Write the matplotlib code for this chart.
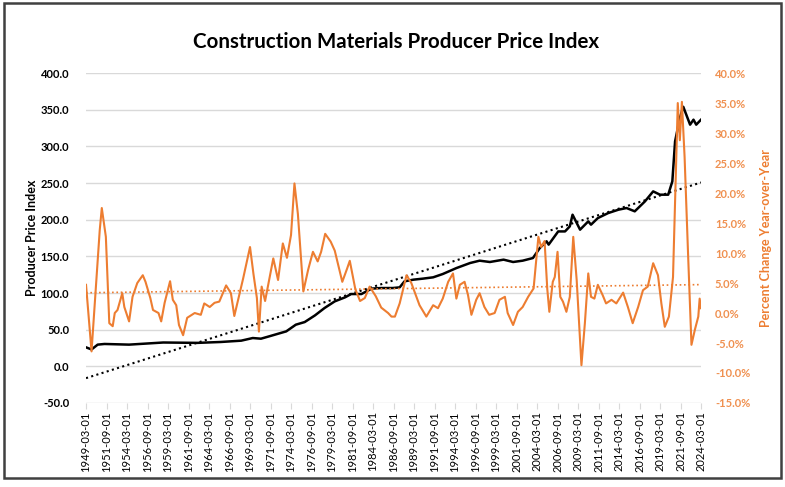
import numpy as np
import pandas as pd
import matplotlib
matplotlib.use("Agg")
import matplotlib.pyplot as plt
import matplotlib.dates as mdates
from matplotlib.patches import Rectangle

plt.rcParams['font.family'] = ['Lato', 'DejaVu Sans']

# Producer price index (left axis)
ppi_dates = [
    "1949-03", "1949-11", "1950-08", "1951-06", "1954-06", "1958-08", "1962-10",
    "1965-08", "1968-02", "1969-07", "1970-07", "1971-07", "1973-08", "1974-10",
    "1975-11", "1977-02", "1978-04", "1979-07", "1980-10", "1981-07", "1982-10",
    "1984-01", "1985-03", "1986-08", "1987-06", "1988-01", "1989-02", "1990-04",
    "1991-07", "1992-09", "1994-05", "1996-01", "1997-03", "1998-06", "2000-02",
    "2001-04", "2002-06", "2003-09", "2004-07", "2005-05", "2005-08", "2006-10",
    "2007-08", "2008-03", "2008-07", "2009-06", "2010-06", "2010-10", "2011-08",
    "2012-11", "2014-02", "2015-02", "2016-02", "2017-05", "2018-05", "2019-03",
    "2020-03", "2020-09", "2021-01", "2021-08", "2022-01", "2022-11", "2023-04",
    "2023-08", "2024-03",
]
ppi_values = [
    25.9, 23.0, 29.6, 30.5, 29.6, 32.5, 32.0,
    33.2, 35.0, 38.6, 37.7, 40.9, 47.7, 56.8,
    60.4, 69.5, 79.5, 88.6, 94.1, 98.6, 98.6,
    106.0, 106.8, 106.8, 107.7, 115.9, 118.2, 119.6,
    121.4, 125.9, 134.0, 140.9, 144.1, 142.3, 145.5,
    142.3, 144.1, 147.7, 161.3, 170.5, 166.0, 184.0,
    184.0, 190.9, 206.8, 186.4, 197.7, 193.2, 202.2,
    209.0, 213.6, 215.9, 211.4, 225.0, 238.6, 234.1,
    234.1, 252.3, 306.8, 338.6, 354.0, 329.6, 336.4,
    329.6, 336.4,
]

# Percent change year-over-year (right axis)
yoy_dates = [
    "1949-03", "1949-11", "1950-11", "1951-02", "1951-08", "1952-01", "1952-06",
    "1952-09", "1953-01", "1953-08", "1953-11", "1954-06", "1954-11", "1955-06",
    "1956-02", "1956-06", "1957-01", "1957-05", "1958-01", "1958-05", "1958-10",
    "1959-06", "1959-10", "1960-03", "1960-07", "1961-01", "1961-07", "1962-06",
    "1963-03", "1963-08", "1964-04", "1964-11", "1965-06", "1966-04", "1966-11",
    "1967-04", "1968-05", "1969-03", "1969-08", "1970-01", "1970-04", "1970-08",
    "1971-01", "1971-07", "1972-01", "1972-08", "1973-03", "1973-09", "1974-03",
    "1974-08", "1975-01", "1975-09", "1976-04", "1976-11", "1977-06", "1977-11",
    "1978-05", "1979-01", "1979-07", "1980-06", "1981-01", "1981-05", "1982-01",
    "1982-08", "1983-03", "1983-10", "1984-07", "1985-03", "1986-01", "1986-06",
    "1986-11", "1987-06", "1988-04", "1988-11", "1989-11", "1990-09", "1991-07",
    "1992-02", "1992-09", "1993-05", "1993-12", "1994-05", "1994-10", "1995-05",
    "1995-10", "1996-03", "1996-10", "1997-03", "1997-10", "1998-05", "1999-01",
    "1999-08", "2000-04", "2000-08", "2001-04", "2001-11", "2002-06", "2003-02",
    "2003-10", "2004-05", "2004-09", "2005-02", "2005-06", "2005-09", "2006-02",
    "2006-05", "2006-09", "2007-01", "2007-05", "2007-10", "2008-03", "2008-08",
    "2009-01", "2009-08", "2010-01", "2010-06", "2010-10", "2011-03", "2011-08",
    "2012-03", "2012-08", "2013-04", "2013-11", "2014-09", "2015-04", "2015-11",
    "2016-07", "2017-02", "2017-09", "2018-05", "2018-12", "2019-05", "2019-10",
    "2020-04", "2020-10", "2021-05", "2021-08", "2021-11", "2022-03", "2022-08",
    "2023-01", "2023-06", "2023-11", "2024-01", "2024-03",
]
yoy_values = [
    4.7, -6.4, 13.8, 17.5, 12.7, -1.7, -2.2,
    0.0, 0.5, 3.3, 1.0, -1.4, 2.7, 5.0,
    6.3, 5.2, 2.5, 0.5, 0.0, -1.4, 1.7,
    5.3, 2.2, 1.3, -2.0, -3.7, -0.8, 0.0,
    -0.3, 1.6, 1.0, 1.7, 1.9, 4.6, 3.3,
    -0.5, 5.8, 11.0, 6.5, 2.5, -3.1, 4.4,
    2.0, 5.5, 9.1, 5.5, 11.6, 9.2, 13.0,
    21.6, 16.5, 3.6, 7.2, 10.2, 8.6, 10.2,
    13.2, 11.9, 10.4, 5.2, 7.4, 8.7, 4.0,
    2.0, 2.5, 4.4, 2.8, 0.9, 0.0, -0.6,
    -0.6, 1.6, 6.3, 5.0, 1.3, -0.6, 1.3,
    0.8, 2.4, 5.2, 6.6, 2.4, 4.7, 5.2,
    3.0, -0.3, 2.2, 3.3, 1.0, -0.3, 0.0,
    2.2, 2.7, 0.0, -2.0, 0.2, 1.0, 2.7,
    4.1, 12.7, 11.0, 12.0, 4.0, 0.2, 5.2,
    6.0, 10.2, 2.7, 1.9, 0.2, 2.7, 12.7,
    5.5, -8.7, -1.7, 6.6, 2.7, 2.4, 4.7,
    3.0, 1.6, 2.2, 1.6, 3.4, 1.0, -1.7,
    1.0, 3.8, 4.4, 8.3, 6.3, 1.6, -2.3,
    -0.6, 6.0, 35.0, 28.8, 35.2, 26.0, 10.0,
    -5.3, -2.8, -0.6, 2.4, 0.8,
]

left_ticks = [-50, 0, 50, 100, 150, 200, 250, 300, 350, 400]
right_ticks = [-15, -10, -5, 0, 5, 10, 15, 20, 25, 30, 35, 40]
tick_dates = pd.date_range("1949-03-01", "2024-03-01", freq="30MS")

orange = '#ED7D31'

ppi_t = pd.to_datetime(ppi_dates)
yoy_t = pd.to_datetime(yoy_dates)


def linear_trend(t, v):
    # fit on a monthly grid, like a spreadsheet trendline over monthly rows
    months = pd.date_range(t[0], t[-1], freq="MS")
    mnum = mdates.date2num(months)
    vals = np.interp(mnum, mdates.date2num(t), v)
    a, b = np.polyfit(mnum, vals, 1)
    return months, a * mnum + b


fig = plt.figure(figsize=(7.85, 4.87), dpi=100)
ax = fig.add_axes([0.1096, 0.1725, 0.7834, 0.6775])
ax2 = ax.twinx()

ax.plot(ppi_t, ppi_values, color='black', lw=1.8, zorder=3)
tm, tv = linear_trend(ppi_t, ppi_values)
ax.plot(tm, tv, color='black', lw=1.5, ls=(0, (1, 1.6)), zorder=3)

ax2.plot(yoy_t, yoy_values, color=orange, lw=1.5, zorder=2)
tm2, tv2 = linear_trend(yoy_t, yoy_values)
ax2.plot(tm2, tv2, color=orange, lw=1.2, ls=(0, (1, 1.6)), zorder=2)

ax.set_ylim(-50, 400)
ax.set_yticks(left_ticks)
ax.set_yticklabels([f"{v:.1f}" for v in left_ticks], fontsize=8, fontweight='bold')
ax.grid(axis='y', color='#D9D9D9', lw=1)
ax.set_axisbelow(True)

ax2.set_ylim(-15, 40)
ax2.set_yticks(right_ticks)
ax2.set_yticklabels([f"{v:.1f}%" for v in right_ticks], fontsize=8,
                    fontweight='bold', color=orange, alpha=0.85)

ax.set_xlim(tick_dates[0], tick_dates[-1])
ax.set_xticks(tick_dates)
ax.set_xticklabels([d.strftime("%Y-%m-%d") for d in tick_dates], rotation=90, fontsize=8)

for a in (ax, ax2):
    for s in a.spines.values():
        s.set_visible(False)
ax.tick_params(axis='y', length=0, pad=12)
ax2.tick_params(axis='y', length=0, pad=10)
ax.tick_params(axis='x', length=4, color='#D9D9D9', pad=2)

ax.set_ylabel("Producer Price Index", fontsize=9, fontweight='bold', labelpad=2)
ax2.set_ylabel("Percent Change Year-over-Year", fontsize=9, fontweight='bold',
               color=orange, labelpad=7)

fig.text(0.504, 0.914, "Construction Materials Producer Price Index",
         ha='center', va='center', fontsize=14.8, fontweight='bold')

fig.add_artist(Rectangle((0.005, 0.018), 0.99, 0.976, transform=fig.transFigure,
                         fill=False, edgecolor='#404040', lw=1.8))

fig.savefig("out.png", dpi=100)
